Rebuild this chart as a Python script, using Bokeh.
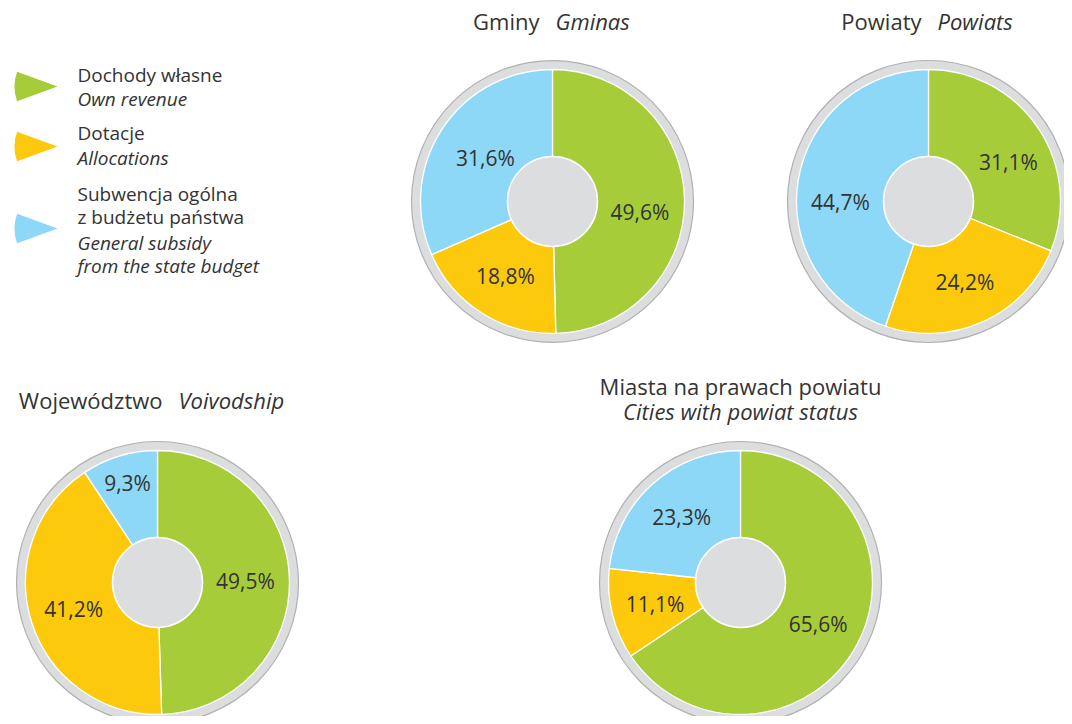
import math
from bokeh.plotting import figure
from bokeh.models import Range1d
from bokeh.core.properties import value
from bokeh.embed import file_html
from bokeh.resources import INLINE

# ---- data ----
categories_pl = ["Dochody własne", "Dotacje", "Subwencja ogólna\nz budżetu państwa"]
categories_en = ["Own revenue", "Allocations", "General subsidy\nfrom the state budget"]
gminy = [49.6, 18.8, 31.6]
powiaty = [31.1, 24.2, 44.7]
wojewodztwo = [49.5, 41.2, 9.3]
miasta = [65.6, 11.1, 23.3]

titles_pl = ["Gminy", "Powiaty", "Województwo", "Miasta na prawach powiatu"]
titles_en = ["Gminas", "Powiats", "Voivodship", "Cities with powiat status"]

# ---- styles ----
COLORS = ["#a6cd39", "#fdc90d", "#8dd8f7"]
GRAY = "#dcdddf"
RING_EDGE = "#b0b0b0"
TXT = "#333333"
FONT = value("Open Sans")

W, H = 1064, 716
p = figure(width=W, height=H, output_backend="svg", toolbar_location=None,
           x_range=Range1d(0, W), y_range=Range1d(0, H),
           min_border=0, outline_line_color=None)
p.axis.visible = False
p.grid.visible = False
p.background_fill_color = "white"
p.border_fill_color = "white"


def Y(py):
    return H - py


R_RING, R_PIE, R_IN = 141, 132, 45

charts = [
    (gminy, (552, 201)),
    (powiaty, (928, 201)),
    (wojewodztwo, (157, 582)),
    (miasta, (740, 582)),
]
# label placement tweaks: (chart index, slice index) -> (radius, angle deg clockwise from top)
label_tweaks = {(0, 0): (88, 97), (0, 2): (80, None), (1, 0): (89, 64), (1, 2): (88, 270),
                (2, 2): (104, None)}

for ci, (vals, (cx, cpy)) in enumerate(charts):
    cy = Y(cpy)
    p.circle(x=[cx], y=[cy], radius=R_RING, fill_color=GRAY, line_color=RING_EDGE, line_width=1.2)
    total = sum(vals)
    cum = 0.0
    for si, v in enumerate(vals):
        f0 = cum / total
        f1 = (cum + v) / total
        cum += v
        start = math.pi / 2 - 2 * math.pi * f1
        end = math.pi / 2 - 2 * math.pi * f0
        p.wedge(x=[cx], y=[cy], radius=R_PIE, start_angle=start, end_angle=end,
                fill_color=COLORS[si], line_color="white", line_width=1.3)
    p.circle(x=[cx], y=[cy], radius=R_IN, fill_color=GRAY, line_color="white", line_width=1.5)
    cum = 0.0
    for si, v in enumerate(vals):
        mid = (cum + v / 2) / total * 360.0
        cum += v
        r, ang = 88, mid
        if (ci, si) in label_tweaks:
            tr, ta = label_tweaks[(ci, si)]
            r = tr
            if ta is not None:
                ang = ta
        a = math.radians(ang)
        lx = cx + r * math.sin(a)
        ly = cy + r * math.cos(a)
        p.text(x=[lx], y=[ly], text=[f"{v:.1f}%".replace(".", ",")], text_font=FONT,
               text_font_size="21px", text_color=TXT, text_align="center", text_baseline="middle")

# ---- titles ----
title_font_size = "22px"
for (tp, te, gx, gy) in [(titles_pl[0], titles_en[0], 547, 20), (titles_pl[1], titles_en[1], 929, 20),
                         (titles_pl[2], titles_en[2], 170, 399)]:
    p.text(x=[gx - 8], y=[Y(gy)], text=[tp], text_font=FONT, text_font_size=title_font_size,
           text_color=TXT, text_align="right", text_baseline="middle")
    p.text(x=[gx + 8], y=[Y(gy)], text=[te], text_font=FONT, text_font_size=title_font_size,
           text_font_style="italic", text_color=TXT, text_align="left", text_baseline="middle")
p.text(x=[740], y=[Y(385)], text=[titles_pl[3]], text_font=FONT, text_font_size=title_font_size,
       text_color=TXT, text_align="center", text_baseline="middle")
p.text(x=[740], y=[Y(410)], text=[titles_en[3]], text_font=FONT, text_font_size=title_font_size,
       text_font_style="italic", text_color=TXT, text_align="center", text_baseline="middle")

# ---- legend ----
leg_tip_y = [86, 146, 228]
leg_pl_y = [[74], [132], [193, 216]]
leg_en_y = [[98], [157], [242, 265]]
for i in range(3):
    p.wedge(x=[57], y=[Y(leg_tip_y[i])], radius=43, start_angle=math.radians(160),
            end_angle=math.radians(200), fill_color=COLORS[i], line_color=None)
    for line, yy in zip(categories_pl[i].split("\n"), leg_pl_y[i]):
        p.text(x=[77], y=[Y(yy)], text=[line], text_font=FONT, text_font_size="19px",
               text_color=TXT, text_align="left", text_baseline="middle")
    for line, yy in zip(categories_en[i].split("\n"), leg_en_y[i]):
        p.text(x=[77], y=[Y(yy)], text=[line], text_font=FONT, text_font_size="19px",
               text_font_style="italic", text_color=TXT, text_align="left", text_baseline="middle")

open("out.html", "w").write(file_html(p, INLINE))
